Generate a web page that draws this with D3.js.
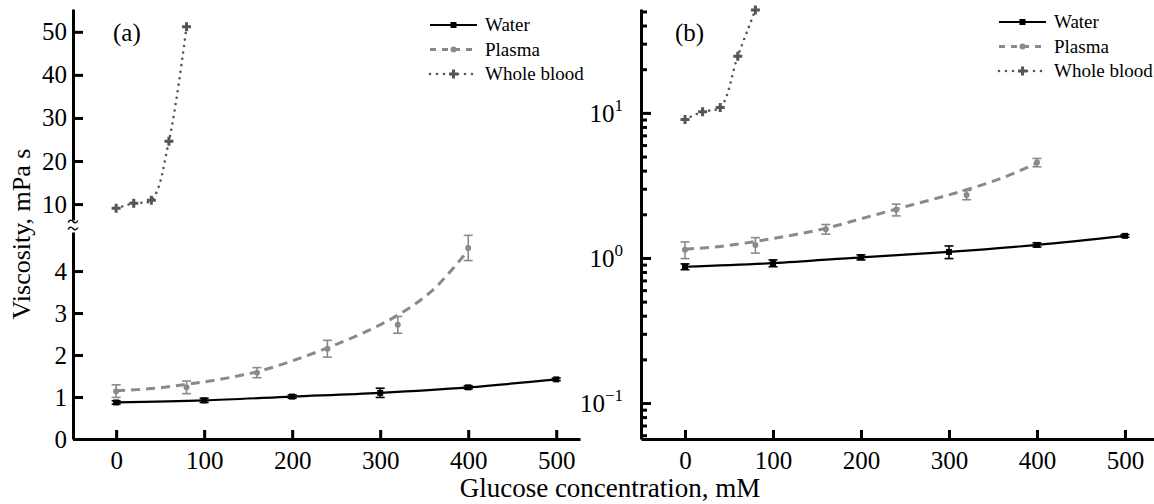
<!DOCTYPE html>
<html>
<head>
<meta charset="utf-8">
<script src="https://cdn.jsdelivr.net/npm/d3@7"></script>
<style>
  body { margin: 0; background: #fff; }
  svg text { font-family: "Liberation Serif", "Times New Roman", Times, serif !important; fill: #000; }
  .axis path, .axis line { stroke: #000; stroke-width: 3; }
  .axis text { font-size: 25px; }
</style>
</head>
<body>
<div id="chart"></div>
<script>
var w = 1154;
var h = 504;

// data
var waterX = [0, 100, 200, 300, 400, 500];
var waterY = [0.87, 0.92, 1.01, 1.10, 1.23, 1.42];
var waterErr = [0.04, 0.05, 0.04, 0.11, 0.04, 0.03];

var plasmaX = [0, 80, 160, 240, 320, 400];
var plasmaY = [1.14, 1.23, 1.58, 2.15, 2.72, 4.55];
var plasmaErr = [0.15, 0.15, 0.12, 0.2, 0.2, 0.3];
// the dashed fit curve
var plasmaFitX = [0, 40, 80, 120, 160, 200, 240, 280, 320, 360, 400];
var plasmaFitY = [1.15, 1.2, 1.3, 1.43, 1.6, 1.86, 2.17, 2.52, 2.95, 3.55, 4.5];

var bloodX = [0, 20, 40, 60, 80];
var bloodY = [9.0, 10.2, 10.9, 24.6, 51.2];

var xTicks = [0, 100, 200, 300, 400, 500];
var lowTicks = [0, 1, 2, 3, 4];
var highTicks = [10, 20, 30, 40, 50];
var logMajor = [0.1, 1, 10];
var logMinor = [0.06, 0.07, 0.08, 0.09, 0.2, 0.3, 0.4, 0.5, 0.6, 0.7, 0.8, 0.9,
                2, 3, 4, 5, 6, 7, 8, 9, 20, 30, 40, 50];
var legendNames = ['Water', 'Plasma', 'Whole blood'];

var series = [
  {x: waterX, y: waterY, err: waterErr, color: '#000', dash: null, width: 2.2, mark: 'square'},
  {x: plasmaX, y: plasmaY, err: plasmaErr, fx: plasmaFitX, fy: plasmaFitY,
   color: '#8a8a8a', dash: '9,6', width: 3, mark: 'circle'},
  {x: bloodX, y: bloodY, err: null, color: '#555', dash: '0,6.5', width: 2.6, mark: 'cross'}
];

var svg = d3.select('#chart')
            .append('svg')
            .attr('width', w)
            .attr('height', h)
            .attr('font-family', '"Liberation Serif", serif');

var defs = svg.append('defs');

function clip(id, x0, y0, x1, y1) {
    defs.append('clipPath').attr('id', id)
        .append('rect')
        .attr('x', x0).attr('y', y0)
        .attr('width', x1 - x0).attr('height', y1 - y0);
}

function marker(g, type, x, y, color) {
    if (type == 'square') {
        g.append('rect').attr('x', x - 3).attr('y', y - 3)
         .attr('width', 6).attr('height', 6).attr('fill', color);
    } else if (type == 'circle') {
        g.append('circle').attr('cx', x).attr('cy', y).attr('r', 3).attr('fill', color);
    } else {
        g.append('path').attr('d', d3.symbol().type(d3.symbolCross).size(45)())
         .attr('transform', 'translate(' + x + ',' + y + ')').attr('fill', color);
    }
}

// draws one series with a given x and y scale
function drawSeries(g, s, xs, ys) {
    var pts = s.x.map(function(v, i) { return [v, s.y[i]]; });
    var linePts = s.fx ? s.fx.map(function(v, i) { return [v, s.fy[i]]; }) : pts;
    var line = d3.line()
                 .x(function(d) { return xs(d[0]); })
                 .y(function(d) { return ys(d[1]); })
                 .curve(d3.curveCatmullRom.alpha(0.5));
    g.append('path')
     .attr('d', line(linePts))
     .attr('fill', 'none')
     .attr('stroke', s.color)
     .attr('stroke-width', s.width)
     .attr('stroke-dasharray', s.dash)
     .attr('stroke-linecap', s.dash == '0,6.5' ? 'round' : 'butt');

    pts.forEach(function(d, i) {
        if (s.err) {
            var e = s.err[i];
            var top = ys(d[1] + e), bot = ys(d[1] - e), cx = xs(d[0]);
            var eb = g.append('g').attr('stroke', s.color).attr('stroke-width', 1.6);
            eb.append('line').attr('x1', cx).attr('x2', cx).attr('y1', top).attr('y2', bot);
            eb.append('line').attr('x1', cx - 4.5).attr('x2', cx + 4.5).attr('y1', top).attr('y2', top);
            eb.append('line').attr('x1', cx - 4.5).attr('x2', cx + 4.5).attr('y1', bot).attr('y2', bot);
        }
        marker(g, s.mark, xs(d[0]), ys(d[1]), s.color);
    });
}

function legend(x0, y0) {
    var g = svg.append('g');
    series.forEach(function(s, i) {
        var y = y0 + i * 24.5;
        g.append('line')
         .attr('x1', x0).attr('x2', x0 + 47)
         .attr('y1', y).attr('y2', y)
         .attr('stroke', s.color)
         .attr('stroke-width', s.width)
         .attr('stroke-dasharray', s.dash == null ? null : (i == 1 ? '6,6' : '0,7'))
         .attr('stroke-linecap', i == 2 ? 'round' : 'butt');
        marker(g, s.mark, x0 + 23.5, y, s.color);
        g.append('text')
         .attr('x', x0 + 55).attr('y', y + 6)
         .style('font-size', '19px')
         .text(legendNames[i]);
    });
}

// ---------- panel (a) ----------
var xA = d3.scaleLinear().domain([-49, 527]).range([73, 580]);
var yLow = d3.scaleLinear().domain([0, 4.93]).range([439, 232]);
var yHigh = d3.scaleLinear().domain([6.3, 55.3]).range([220, 9]);

clip('clipLow', 73, 232, 580, 439);
clip('clipHigh', 73, 0, 580, 220);

drawSeries(svg.append('g').attr('clip-path', 'url(#clipLow)'), series[0], xA, yLow);
drawSeries(svg.append('g').attr('clip-path', 'url(#clipLow)'), series[1], xA, yLow);
drawSeries(svg.append('g').attr('clip-path', 'url(#clipHigh)'), series[2], xA, yHigh);

svg.append('g').attr('class', 'axis')
   .attr('transform', 'translate(0,439)')
   .call(d3.axisBottom(xA).tickValues(xTicks).tickSize(-9).tickSizeOuter(0).tickPadding(12));

svg.append('g').attr('class', 'axis')
   .attr('transform', 'translate(73,0)')
   .call(d3.axisLeft(yLow).tickValues(lowTicks).tickFormat(d3.format('d'))
           .tickSize(-10).tickSizeOuter(0).tickPadding(6));

svg.append('g').attr('class', 'axis')
   .attr('transform', 'translate(73,0)')
   .call(d3.axisLeft(yHigh).tickValues(highTicks).tickFormat(d3.format('d'))
           .tickSize(-10).tickSizeOuter(0).tickPadding(6));

// axis break mark
var brk = svg.append('g').attr('fill', 'none').attr('stroke', '#000').attr('stroke-width', 1.3);
[221.5, 228.5].forEach(function(y) {
    brk.append('path')
       .attr('d', 'M68,' + (y + 1) + ' q2.5,-4 5,-1 t5,-1');
});

svg.append('text')
   .attr('x', 113).attr('y', 41)
   .style('font-size', '25px')
   .text('(a)');

legend(430, 25);

// ---------- panel (b) ----------
var xB = d3.scaleLinear().domain([-50, 533]).range([641, 1154]);
var yLog = d3.scaleLog().domain([0.0565, 52]).range([439, 9]);

clip('clipB', 641, 0, 1154, 439);
var gB = svg.append('g').attr('clip-path', 'url(#clipB)');
series.forEach(function(s) { drawSeries(gB, s, xB, yLog); });

svg.append('g').attr('class', 'axis')
   .attr('transform', 'translate(0,439)')
   .call(d3.axisBottom(xB).tickValues(xTicks).tickSize(-9).tickSizeOuter(0).tickPadding(12));

svg.append('g').attr('class', 'axis')
   .attr('transform', 'translate(641,0)')
   .call(d3.axisLeft(yLog).tickValues(logMajor).tickSize(-10).tickSizeOuter(0).tickFormat(''));

svg.append('g').attr('class', 'axis')
   .attr('transform', 'translate(641,0)')
   .call(d3.axisLeft(yLog).tickValues(logMinor).tickSize(-6).tickSizeOuter(0).tickFormat(''))
   .select('.domain').remove();

var logLab = svg.append('g').selectAll('text')
   .data(logMajor)
   .enter()
   .append('text')
   .attr('x', 623)
   .attr('y', function(d) { return yLog(d) + 9; })
   .attr('text-anchor', 'end')
   .style('font-size', '25px');
logLab.append('tspan').text('10');
logLab.append('tspan')
      .attr('dy', -11)
      .style('font-size', '17px')
      .text(function(d) { return d == 0.1 ? '\u22121' : (d == 1 ? '0' : '1'); });

svg.append('text')
   .attr('x', 675).attr('y', 41)
   .style('font-size', '25px')
   .text('(b)');

legend(999, 22);

// ---------- titles ----------
svg.append('text')
   .attr('transform', 'translate(30,234) rotate(-90)')
   .attr('text-anchor', 'middle')
   .style('font-size', '26px')
   .text('Viscosity, mPa s');

svg.append('text')
   .attr('x', 610).attr('y', 497)
   .attr('text-anchor', 'middle')
   .style('font-size', '27px')
   .text('Glucose concentration, mM');
</script>
</body>
</html>
